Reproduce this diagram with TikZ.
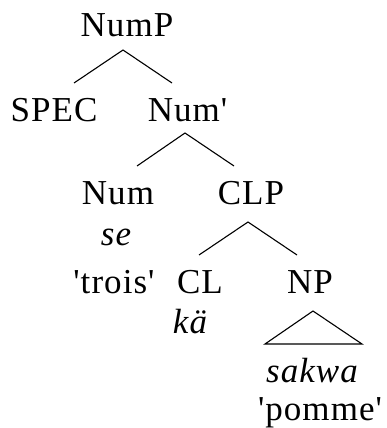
\documentclass[tikz,border=0pt]{standalone}
\usepackage{fontspec}
\setmainfont{Liberation Serif}[Ligatures=TeXOff,LetterSpace=3]
\begin{document}
\begin{tikzpicture}[x=1pt,y=-1pt,
  lbl/.style={anchor=base,inner sep=0pt,font=\fontsize{35}{40}\selectfont},
  it/.style={lbl,font=\fontsize{35}{40}\selectfont\itshape},
  br/.style={line width=1.1pt}]
\useasboundingbox (0,0) rectangle (386,428);
% labels
\node[lbl] (NumP) at (127,37) {NumP};
\node[lbl] (SPEC) at (54,121) {SPEC};
\node[lbl] (Numbar) at (187.5,121) {Num'};
\node[lbl] (Num) at (118,204) {Num};
\node[lbl] (CLP) at (251,204) {CLP};
\node[it] (se) at (116,245) {se};
\node[lbl] (trois) at (114,293) {'trois'};
\node[lbl] (CL) at (200,293) {CL};
\node[lbl] (NP) at (310,293) {NP};
\node[it] (ka) at (190,333) {kä};
\node[it] (sakwa) at (312,382) {sakwa};
\node[lbl] (pomme) at (320,420) {'pomme'};
% branch points
\coordinate (a1) at (123,50);
\coordinate (e1l) at (74,83);
\coordinate (e1r) at (172,83);
\coordinate (a2) at (185,133);
\coordinate (e2l) at (137,166);
\coordinate (e2r) at (234,166);
\coordinate (a3) at (248,222);
\coordinate (e3l) at (199,255);
\coordinate (e3r) at (297,255);
\coordinate (t1) at (313,311);
\coordinate (t2) at (265,344);
\coordinate (t3) at (362,344);
\draw[br] (e1l) -- (a1) -- (e1r);
\draw[br] (e2l) -- (a2) -- (e2r);
\draw[br] (e3l) -- (a3) -- (e3r);
\draw[br] (t1) -- (t2) -- (t3) -- cycle;
\end{tikzpicture}
\end{document}
